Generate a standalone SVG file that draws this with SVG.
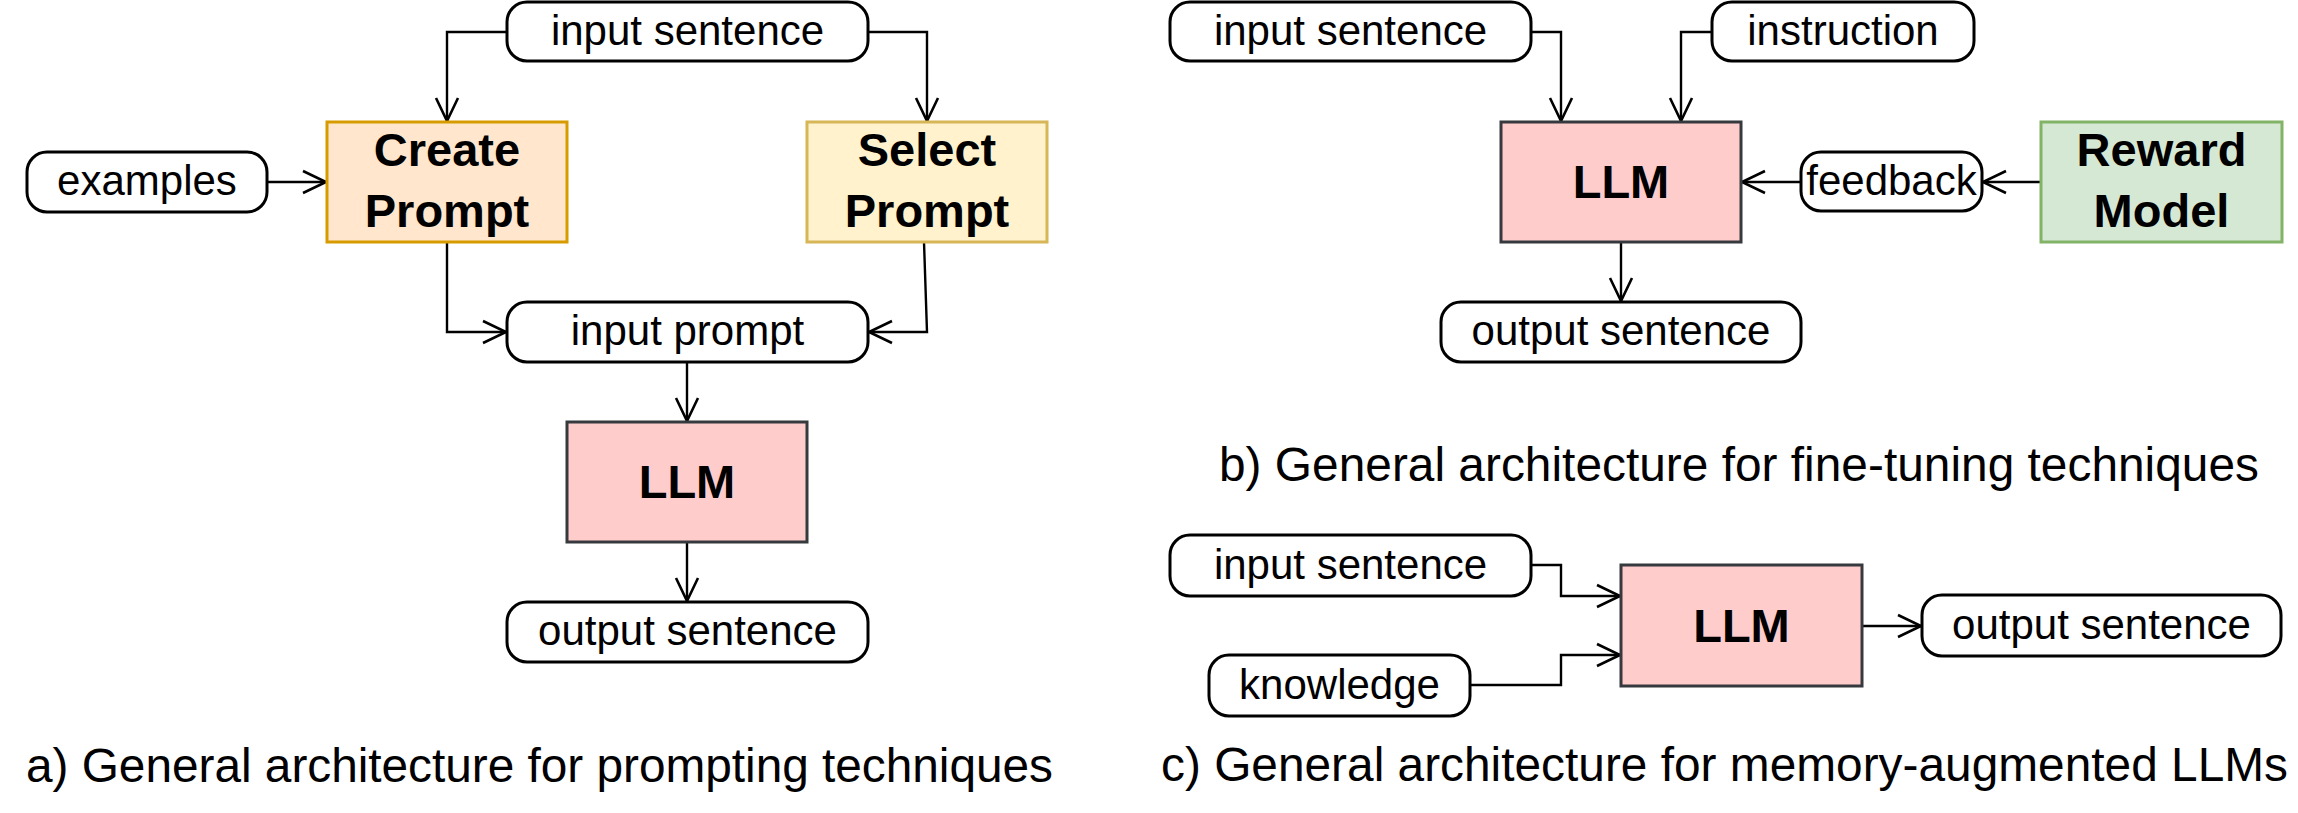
<svg xmlns="http://www.w3.org/2000/svg" width="2298" height="813" viewBox="0 0 2298 813">
<style>
.pill{fill:#fff;stroke:#000;stroke-width:3}
.box{stroke-width:3}
.t{font-family:"Liberation Sans",Arial,sans-serif;font-size:42px;text-anchor:middle;fill:#000}
.b{font-family:"Liberation Sans",Arial,sans-serif;font-size:47px;font-weight:bold;text-anchor:middle;fill:#000}
.cap{font-family:"Liberation Sans",Arial,sans-serif;font-size:47.8px;fill:#000}
.c{fill:none;stroke:#000;stroke-width:2.4;marker-end:url(#arr)}
</style>
<defs>
<marker id="arr" markerUnits="userSpaceOnUse" markerWidth="30" markerHeight="30" viewBox="-27 -15 30 30" refX="0" refY="0" orient="auto">
<path d="M-23,-11 L0,0 L-23,11" fill="none" stroke="#000" stroke-width="2.6"/>
</marker>
</defs>
<rect width="2298" height="813" fill="#fff"/>
<g id="connectors">
<path class="c" d="M507,32 H447 V121"/>
<path class="c" d="M868,32 H927 V121"/>
<path class="c" d="M267,182 H326"/>
<path class="c" d="M447,242 V332 H506"/>
<path class="c" d="M924,242 L927,332 H869"/>
<path class="c" d="M687,362 V421"/>
<path class="c" d="M687,542 V601"/>
<path class="c" d="M1531,32 H1561 V121"/>
<path class="c" d="M1712,32 H1681 V121"/>
<path class="c" d="M2041,182 H1983"/>
<path class="c" d="M1801,182 H1742"/>
<path class="c" d="M1621,242 V301"/>
<path class="c" d="M1531,565 H1561 V596 H1620"/>
<path class="c" d="M1470,685 H1561 V655 H1620"/>
<path class="c" d="M1862,626 H1921"/>
</g>
<g id="a_input_sentence"><rect class="pill" x="507" y="2" width="361" height="59" rx="20"/><text class="t" x="687.5" y="45">input sentence</text></g>
<g id="a_create_prompt"><rect class="box" x="327" y="122" width="240" height="120" fill="#ffe6cc" stroke="#d79b00"/><text class="b" x="447" y="166">Create</text><text class="b" x="447" y="227">Prompt</text></g>
<g id="a_select_prompt"><rect class="box" x="807" y="122" width="240" height="120" fill="#fff2cc" stroke="#d6b656"/><text class="b" x="927" y="166">Select</text><text class="b" x="927" y="227">Prompt</text></g>
<g id="a_examples"><rect class="pill" x="27" y="152" width="240" height="60" rx="20"/><text class="t" x="147" y="195">examples</text></g>
<g id="a_input_prompt"><rect class="pill" x="507" y="302" width="361" height="60" rx="20"/><text class="t" x="687.5" y="345">input prompt</text></g>
<g id="a_llm"><rect class="box" x="567" y="422" width="240" height="120" fill="#ffcccc" stroke="#36393d"/><text class="b" x="687" y="498">LLM</text></g>
<g id="a_output_sentence"><rect class="pill" x="507" y="602" width="361" height="60" rx="20"/><text class="t" x="687.5" y="645">output sentence</text></g>
<text class="cap" x="26" y="782" textLength="1027" lengthAdjust="spacing">a) General architecture for prompting techniques</text>

<g id="b_input_sentence"><rect class="pill" x="1170" y="2" width="361" height="59" rx="20"/><text class="t" x="1350.5" y="45">input sentence</text></g>
<g id="b_instruction"><rect class="pill" x="1712" y="2" width="262" height="59" rx="20"/><text class="t" x="1843" y="45">instruction</text></g>
<g id="b_llm"><rect class="box" x="1501" y="122" width="240" height="120" fill="#ffcccc" stroke="#36393d"/><text class="b" x="1621" y="198">LLM</text></g>
<g id="b_feedback"><rect class="pill" x="1801" y="152" width="181" height="59" rx="20"/><text class="t" x="1891.5" y="195">feedback</text></g>
<g id="b_reward_model"><rect class="box" x="2041" y="122" width="241" height="120" fill="#d5e8d4" stroke="#82b366"/><text class="b" x="2161.5" y="166">Reward</text><text class="b" x="2161.5" y="227">Model</text></g>
<g id="b_output_sentence"><rect class="pill" x="1441" y="302" width="360" height="60" rx="20"/><text class="t" x="1621" y="345">output sentence</text></g>
<text class="cap" x="1219" y="481" textLength="1040" lengthAdjust="spacing">b) General architecture for fine-tuning techniques</text>

<g id="c_input_sentence"><rect class="pill" x="1170" y="535" width="361" height="61" rx="20"/><text class="t" x="1350.5" y="579">input sentence</text></g>
<g id="c_knowledge"><rect class="pill" x="1209" y="655" width="261" height="61" rx="20"/><text class="t" x="1339.5" y="699">knowledge</text></g>
<g id="c_llm"><rect class="box" x="1621" y="565" width="241" height="121" fill="#ffcccc" stroke="#36393d"/><text class="b" x="1741.5" y="642">LLM</text></g>
<g id="c_output_sentence"><rect class="pill" x="1922" y="595" width="359" height="61" rx="20"/><text class="t" x="2101.5" y="639">output sentence</text></g>
<text class="cap" x="1161" y="781" textLength="1127" lengthAdjust="spacing">c) General architecture for memory-augmented LLMs</text>
</svg>
